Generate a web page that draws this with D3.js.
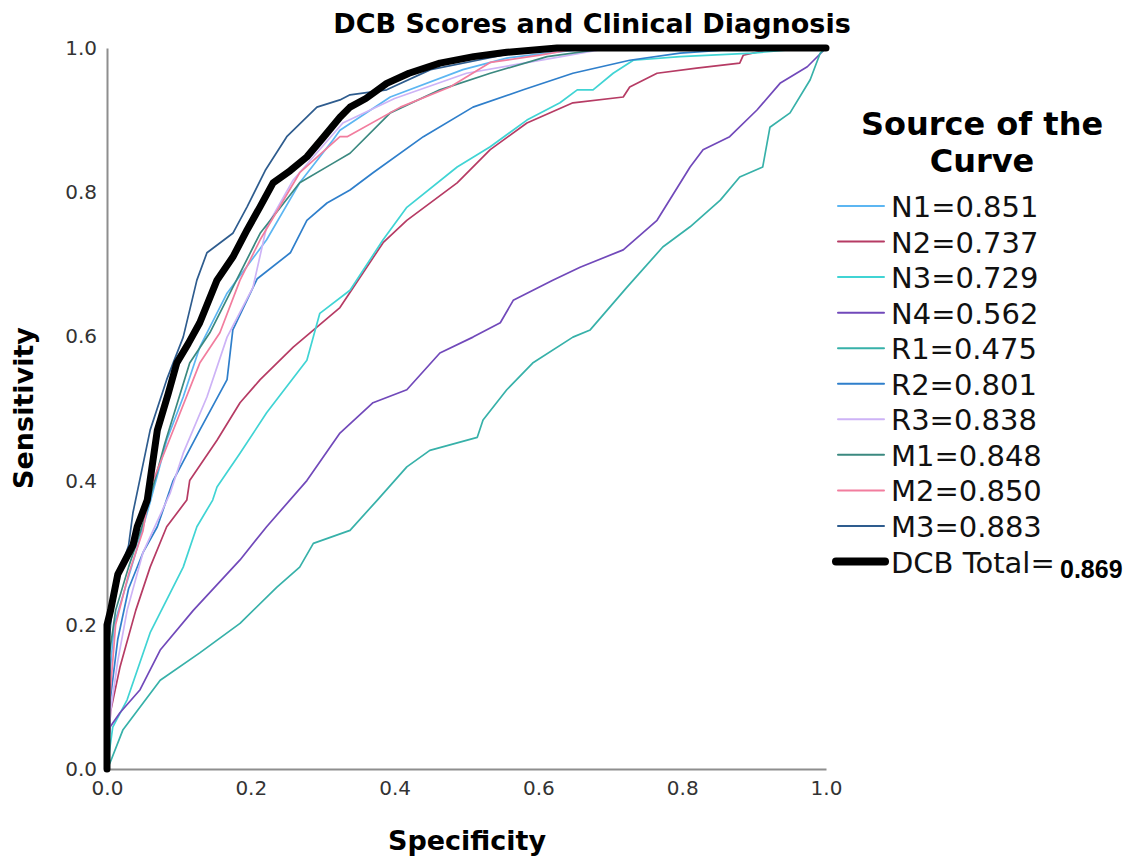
<!DOCTYPE html>
<html>
<head>
<meta charset="utf-8">
<script src="https://cdn.jsdelivr.net/npm/d3@7"></script>
<style>
  body { margin: 0; background: #fff; }
  svg { display: block; font-family: "DejaVu Sans", sans-serif; }
</style>
</head>
<body>
<div id="chart"></div>
<script>
// ROC points: [x, sensitivity]
const n1 = [[0,0],[0.003,0.12],[0.01,0.2],[0.025,0.25],[0.04,0.3],[0.06,0.37],[0.083,0.456],[0.106,0.516],[0.129,0.585],[0.167,0.66],[0.222,0.734],[0.268,0.813],[0.314,0.872],[0.324,0.886],[0.394,0.932],[0.495,0.97],[0.556,0.986],[0.612,0.993],[0.68,1],[1,1]];
const n2 = [[0,0],[0.005,0.08],[0.018,0.141],[0.04,0.22],[0.06,0.28],[0.083,0.336],[0.111,0.373],[0.115,0.4],[0.153,0.456],[0.185,0.508],[0.213,0.54],[0.259,0.585],[0.324,0.64],[0.34,0.664],[0.384,0.73],[0.417,0.761],[0.487,0.813],[0.533,0.859],[0.584,0.896],[0.648,0.924],[0.718,0.932],[0.727,0.946],[0.765,0.965],[0.82,0.972],[0.88,0.979],[0.885,0.99],[0.93,1],[1,1]];
const n3 = [[0,0],[0.008,0.058],[0.028,0.096],[0.06,0.189],[0.106,0.28],[0.125,0.336],[0.147,0.373],[0.153,0.391],[0.185,0.438],[0.222,0.494],[0.278,0.567],[0.296,0.632],[0.338,0.664],[0.384,0.734],[0.417,0.779],[0.487,0.835],[0.533,0.863],[0.584,0.9],[0.63,0.924],[0.654,0.942],[0.676,0.942],[0.704,0.965],[0.732,0.983],[0.797,0.988],[0.898,0.993],[0.98,1],[1,1]];
const n4 = [[0,0],[0.004,0.058],[0.018,0.078],[0.046,0.11],[0.074,0.165],[0.12,0.22],[0.185,0.29],[0.222,0.336],[0.278,0.4],[0.324,0.466],[0.37,0.508],[0.417,0.526],[0.463,0.577],[0.509,0.599],[0.547,0.619],[0.565,0.65],[0.62,0.678],[0.658,0.696],[0.718,0.72],[0.765,0.761],[0.811,0.835],[0.829,0.859],[0.866,0.877],[0.904,0.914],[0.936,0.951],[0.974,0.974],[1,1]];
const r1 = [[0,0],[0.004,0.008],[0.022,0.054],[0.074,0.123],[0.129,0.161],[0.185,0.202],[0.236,0.252],[0.268,0.28],[0.287,0.313],[0.338,0.331],[0.376,0.373],[0.417,0.419],[0.449,0.442],[0.515,0.46],[0.523,0.484],[0.556,0.526],[0.592,0.563],[0.648,0.599],[0.672,0.609],[0.723,0.668],[0.773,0.724],[0.811,0.752],[0.853,0.789],[0.88,0.821],[0.912,0.835],[0.922,0.89],[0.95,0.91],[0.978,0.956],[0.992,0.993],[1,1]];
const r2 = [[0,0],[0.005,0.1],[0.015,0.18],[0.03,0.25],[0.05,0.3],[0.07,0.336],[0.092,0.4],[0.129,0.47],[0.167,0.54],[0.175,0.609],[0.209,0.68],[0.255,0.716],[0.278,0.761],[0.306,0.785],[0.338,0.803],[0.37,0.827],[0.44,0.877],[0.509,0.918],[0.579,0.942],[0.648,0.965],[0.727,0.983],[0.797,0.993],[0.9,1],[1,1]];
const r3 = [[0,0],[0.005,0.08],[0.015,0.15],[0.028,0.22],[0.05,0.3],[0.088,0.383],[0.106,0.438],[0.139,0.516],[0.167,0.599],[0.203,0.668],[0.222,0.752],[0.259,0.817],[0.328,0.896],[0.4,0.93],[0.5,0.965],[0.62,0.986],[0.7,1],[1,1]];
const m1 = [[0,0],[0.002,0.15],[0.012,0.22],[0.03,0.28],[0.05,0.34],[0.08,0.45],[0.115,0.563],[0.143,0.605],[0.175,0.668],[0.213,0.743],[0.268,0.813],[0.314,0.84],[0.338,0.854],[0.394,0.91],[0.463,0.942],[0.533,0.965],[0.612,0.988],[0.7,1],[1,1]];
const m2 = [[0,0],[0.004,0.1],[0.012,0.2],[0.03,0.27],[0.05,0.33],[0.06,0.39],[0.083,0.447],[0.129,0.563],[0.157,0.605],[0.185,0.678],[0.213,0.734],[0.268,0.827],[0.324,0.877],[0.334,0.877],[0.408,0.918],[0.477,0.946],[0.533,0.98],[0.602,0.99],[0.66,1],[1,1]];
const m3 = [[0,0],[0,0.15],[0.01,0.25],[0.03,0.31],[0.036,0.355],[0.06,0.47],[0.083,0.54],[0.106,0.599],[0.125,0.678],[0.139,0.716],[0.175,0.743],[0.195,0.78],[0.22,0.83],[0.25,0.877],[0.292,0.918],[0.324,0.928],[0.338,0.935],[0.389,0.942],[0.45,0.97],[0.55,0.99],[0.62,1],[1,1]];
const dcbTotal = [[0,0],[0,0.2],[0.005,0.22],[0.015,0.27],[0.036,0.31],[0.042,0.336],[0.056,0.373],[0.07,0.47],[0.085,0.52],[0.097,0.563],[0.113,0.59],[0.129,0.619],[0.153,0.678],[0.175,0.71],[0.195,0.748],[0.213,0.78],[0.231,0.813],[0.255,0.83],[0.278,0.849],[0.3,0.875],[0.324,0.904],[0.338,0.918],[0.36,0.93],[0.389,0.951],[0.42,0.965],[0.463,0.979],[0.51,0.988],[0.556,0.994],[0.626,1],[1,1]];

const seriesNames = ["N1", "N2", "N3", "N4", "R1", "R2", "R3", "M1", "M2", "M3", "DCB Total"];
const aucValues = ["0.851", "0.737", "0.729", "0.562", "0.475", "0.801", "0.838", "0.848", "0.850", "0.883", "0.869"];
const seriesPoints = [n1, n2, n3, n4, r1, r2, r3, m1, m2, m3, dcbTotal];
const seriesColors = ["#5cb6f2", "#b63b64", "#40d4d4", "#7149ba", "#37b1a9", "#2f7fcb", "#cdb3f6", "#3b8980", "#f27d9e", "#2e5c8e", "#000000"];
const tickValues = [0, 0.2, 0.4, 0.6, 0.8, 1.0];

const width = 1138, height = 858;
const plot = { left: 107, right: 826, top: 48, bottom: 769 };

const svg = d3.select("#chart").append("svg")
    .attr("width", width)
    .attr("height", height);

const x = d3.scaleLinear().domain([0, 1]).range([plot.left, plot.right]);
const y = d3.scaleLinear().domain([0, 1]).range([plot.bottom, plot.top]);

// Axes (no tick marks, grey axis lines)
const xAxis = svg.append("g")
    .attr("transform", `translate(0,${plot.bottom})`)
    .call(d3.axisBottom(x).tickValues(tickValues).tickSize(0).tickPadding(12).tickFormat(d3.format(".1f")));
const yAxis = svg.append("g")
    .attr("transform", `translate(${plot.left},0)`)
    .call(d3.axisLeft(y).tickValues(tickValues).tickSize(0).tickPadding(10).tickFormat(d3.format(".1f")));

[xAxis, yAxis].forEach(g => {
    g.select(".domain").attr("stroke", "#8e8e8e").attr("stroke-width", 2);
    g.selectAll("text")
        .attr("font-family", "DejaVu Sans, sans-serif")
        .attr("font-size", 20)
        .attr("fill", "#333");
});

// Curves
const line = d3.line()
    .x(d => x(d[0]))
    .y(d => y(d[1]));

svg.append("g").selectAll("path")
    .data(seriesPoints)
    .join("path")
    .attr("d", line)
    .attr("fill", "none")
    .attr("stroke", (d, i) => seriesColors[i])
    .attr("stroke-width", (d, i) => i === seriesPoints.length - 1 ? 7 : 1.7)
    .attr("stroke-linejoin", "round")
    .attr("stroke-linecap", "round");

// Title and axis labels
svg.append("text")
    .attr("x", 592)
    .attr("y", 33)
    .attr("text-anchor", "middle")
    .attr("font-weight", "bold")
    .attr("font-size", 27)
    .text("DCB Scores and Clinical Diagnosis");

svg.append("text")
    .attr("x", 467)
    .attr("y", 850)
    .attr("text-anchor", "middle")
    .attr("font-weight", "bold")
    .attr("font-size", 27)
    .text("Specificity");

svg.append("text")
    .attr("transform", "translate(33,408) rotate(-90)")
    .attr("text-anchor", "middle")
    .attr("font-weight", "bold")
    .attr("font-size", 27)
    .text("Sensitivity");

// Legend
const legend = svg.append("g");

legend.selectAll("text.title")
    .data(["Source of the", "Curve"])
    .join("text")
    .attr("class", "title")
    .attr("x", 982)
    .attr("y", (d, i) => 135 + i * 37)
    .attr("text-anchor", "middle")
    .attr("font-weight", "bold")
    .attr("font-size", 32)
    .text(d => d);

const rowStep = 35.55;
const rows = legend.selectAll("g.row")
    .data(seriesNames)
    .join("g")
    .attr("class", "row")
    .attr("transform", (d, i) => `translate(0,${206 + i * rowStep})`);

rows.append("line")
    .attr("x1", (d, i) => i === seriesNames.length - 1 ? 836 : 838)
    .attr("x2", (d, i) => i === seriesNames.length - 1 ? 885 : 884)
    .attr("stroke", (d, i) => seriesColors[i])
    .attr("stroke-width", (d, i) => i === seriesNames.length - 1 ? 8 : 2)
    .attr("stroke-linecap", "round");

rows.append("text")
    .attr("x", 891)
    .attr("y", 11)
    .attr("font-size", 29)
    .attr("fill", "#111")
    .text((d, i) => i === seriesNames.length - 1 ? d + "=" : d + "=" + aucValues[i]);

// the total's value sits in a different face, slightly lower
rows.filter((d, i) => i === seriesNames.length - 1)
    .append("text")
    .attr("x", 1060)
    .attr("y", 16)
    .attr("font-family", "Liberation Sans, Arial, sans-serif")
    .attr("font-weight", "bold")
    .attr("font-size", 25)
    .text(aucValues[aucValues.length - 1]);
</script>
</body>
</html>
